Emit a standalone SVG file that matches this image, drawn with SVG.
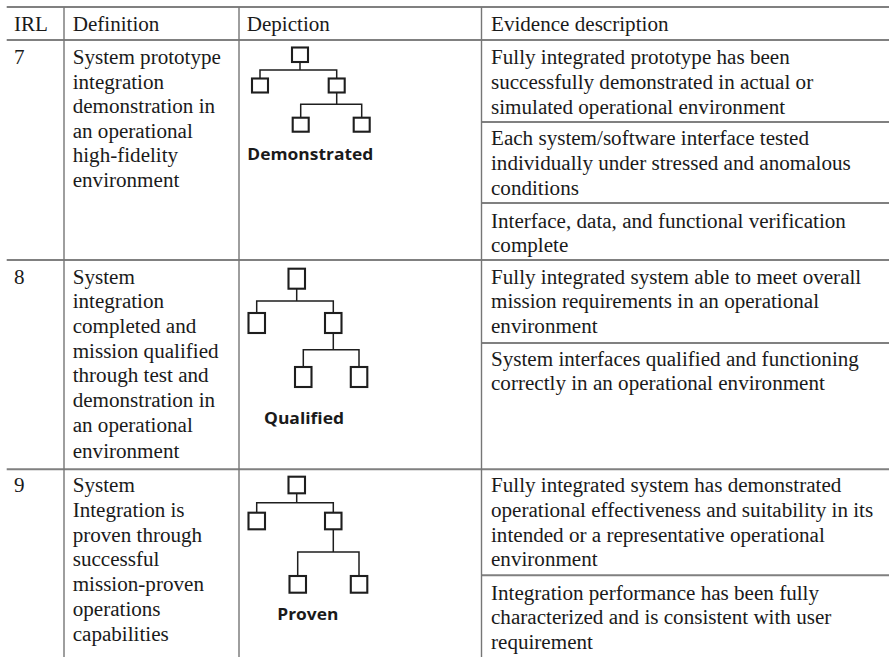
<svg xmlns="http://www.w3.org/2000/svg" width="889" height="657" viewBox="0 0 889 657">
  <style>
    .t { font-family: "Liberation Serif", "Times New Roman", serif; font-size: 21.1px; fill: #1a1a1a; }
    .lbl { font-family: "Open Sans", "Liberation Sans", sans-serif; font-weight: bold; font-size: 16.8px; fill: #1a1a1a; }
    .hr { stroke: #808080; stroke-width: 2; fill: none; }
    .vr { stroke: #767676; stroke-width: 1.4; fill: none; }
    .box { fill: #ffffff; stroke: #1e1e1e; stroke-width: 2.1; }
    .link { fill: none; stroke: #1e1e1e; stroke-width: 1.5; }
  </style>
  <rect width="889" height="657" fill="#ffffff"/>

  <!-- table rules -->
  <g id="grid">
    <path class="hr" d="M6.7 7H889 M6.7 40H889 M6.7 260H889 M6.7 469.3H889"/>
    <path class="hr" d="M481.5 122H889 M481.5 203H889 M481.5 343H889 M481.5 575.3H889"/>
    <path class="vr" d="M64 7V657 M239 7V657 M481.5 7V657"/>
  </g>

  <!-- header -->
  <g id="header" class="t">
    <text x="14" y="31">IRL</text>
    <text x="72.7" y="31">Definition</text>
    <text x="246.7" y="31">Depiction</text>
    <text x="491" y="31">Evidence description</text>
  </g>

  <!-- IRL 7 -->
  <g id="irl7" class="t">
    <text x="14" y="64">7</text>
    <text x="72.7" y="64">System prototype</text>
    <text x="72.7" y="88.5">integration</text>
    <text x="72.7" y="113">demonstration in</text>
    <text x="72.7" y="137.5">an operational</text>
    <text x="72.7" y="162">high-fidelity</text>
    <text x="72.7" y="186.5">environment</text>
    <text x="491" y="63.5">Fully integrated prototype has been</text>
    <text x="491" y="88.5">successfully demonstrated in actual or</text>
    <text x="491" y="113.5">simulated operational environment</text>
    <text x="491" y="145">Each system/software interface tested</text>
    <text x="491" y="170">individually under stressed and anomalous</text>
    <text x="491" y="194.5">conditions</text>
    <text x="491" y="227.5">Interface, data, and functional verification</text>
    <text x="491" y="251.5">complete</text>
  </g>

  <g id="depiction7">
    <g class="connectors">
      <path class="link" d="M300 62V70 M260 78.5V70H336.7V78.5 M336.7 92.5V104.3 M300.7 117.7V104.3H361.7V117.7"/>
    </g>
    <rect class="box" x="292" y="47.5" width="16" height="14.5"/>
    <rect class="box" x="252" y="78.5" width="16" height="14"/>
    <rect class="box" x="328.7" y="78.5" width="16" height="14"/>
    <rect class="box" x="292.7" y="117.7" width="16" height="14"/>
    <rect class="box" x="353.7" y="117.7" width="16" height="14"/>
    <text class="lbl" x="247.3" y="160" textLength="126" lengthAdjust="spacingAndGlyphs">Demonstrated</text>
  </g>

  <!-- IRL 8 -->
  <g id="irl8" class="t">
    <text x="14" y="283.5">8</text>
    <text x="72.7" y="283.5">System</text>
    <text x="72.7" y="308.2">integration</text>
    <text x="72.7" y="332.9">completed and</text>
    <text x="72.7" y="357.6">mission qualified</text>
    <text x="72.7" y="382.3">through test and</text>
    <text x="72.7" y="407">demonstration in</text>
    <text x="72.7" y="431.7">an operational</text>
    <text x="72.7" y="458">environment</text>
    <text x="491" y="283.5">Fully integrated system able to meet overall</text>
    <text x="491" y="308.3">mission requirements in an operational</text>
    <text x="491" y="333">environment</text>
    <text x="491" y="365.5">System interfaces qualified and functioning</text>
    <text x="491" y="390">correctly in an operational environment</text>
  </g>

  <g id="depiction8">
    <g class="connectors">
      <path class="link" d="M296.7 288.7V301 M256.7 313V301H333.3V313 M333.3 333V349.7 M303.3 367V349.7H359V367"/>
    </g>
    <rect class="box" x="288.5" y="268.7" width="16.5" height="20"/>
    <rect class="box" x="248.5" y="313" width="16.5" height="20"/>
    <rect class="box" x="325" y="313" width="16.5" height="20"/>
    <rect class="box" x="295" y="367" width="16.5" height="20"/>
    <rect class="box" x="350.8" y="367" width="16.5" height="20"/>
    <text class="lbl" x="264" y="423.7" textLength="80" lengthAdjust="spacingAndGlyphs">Qualified</text>
  </g>

  <!-- IRL 9 -->
  <g id="irl9" class="t">
    <text x="14" y="492">9</text>
    <text x="72.7" y="492">System</text>
    <text x="72.7" y="516.8">Integration is</text>
    <text x="72.7" y="541.6">proven through</text>
    <text x="72.7" y="566.4">successful</text>
    <text x="72.7" y="591.2">mission-proven</text>
    <text x="72.7" y="616">operations</text>
    <text x="72.7" y="640.8">capabilities</text>
    <text x="491" y="491.5">Fully integrated system has demonstrated</text>
    <text x="491" y="516.5">operational effectiveness and suitability in its</text>
    <text x="491" y="541.5">intended or a representative operational</text>
    <text x="491" y="566">environment</text>
    <text x="491" y="599.5">Integration performance has been fully</text>
    <text x="491" y="624">characterized and is consistent with user</text>
    <text x="491" y="648.5">requirement</text>
  </g>

  <g id="depiction9">
    <g class="connectors">
      <path class="link" d="M296.7 493.3V502.7 M256.7 512.7V502.7H333.3V512.7 M333.3 529.3V552 M297.7 576V552H359V576"/>
    </g>
    <rect class="box" x="288.5" y="476.7" width="16.5" height="16.6"/>
    <rect class="box" x="248.5" y="512.7" width="16.5" height="16.6"/>
    <rect class="box" x="325" y="512.7" width="16.5" height="16.6"/>
    <rect class="box" x="289.5" y="576" width="16.5" height="16.7"/>
    <rect class="box" x="350.8" y="576" width="16.5" height="16.7"/>
    <text class="lbl" x="277.3" y="620" textLength="61" lengthAdjust="spacingAndGlyphs">Proven</text>
  </g>
</svg>
